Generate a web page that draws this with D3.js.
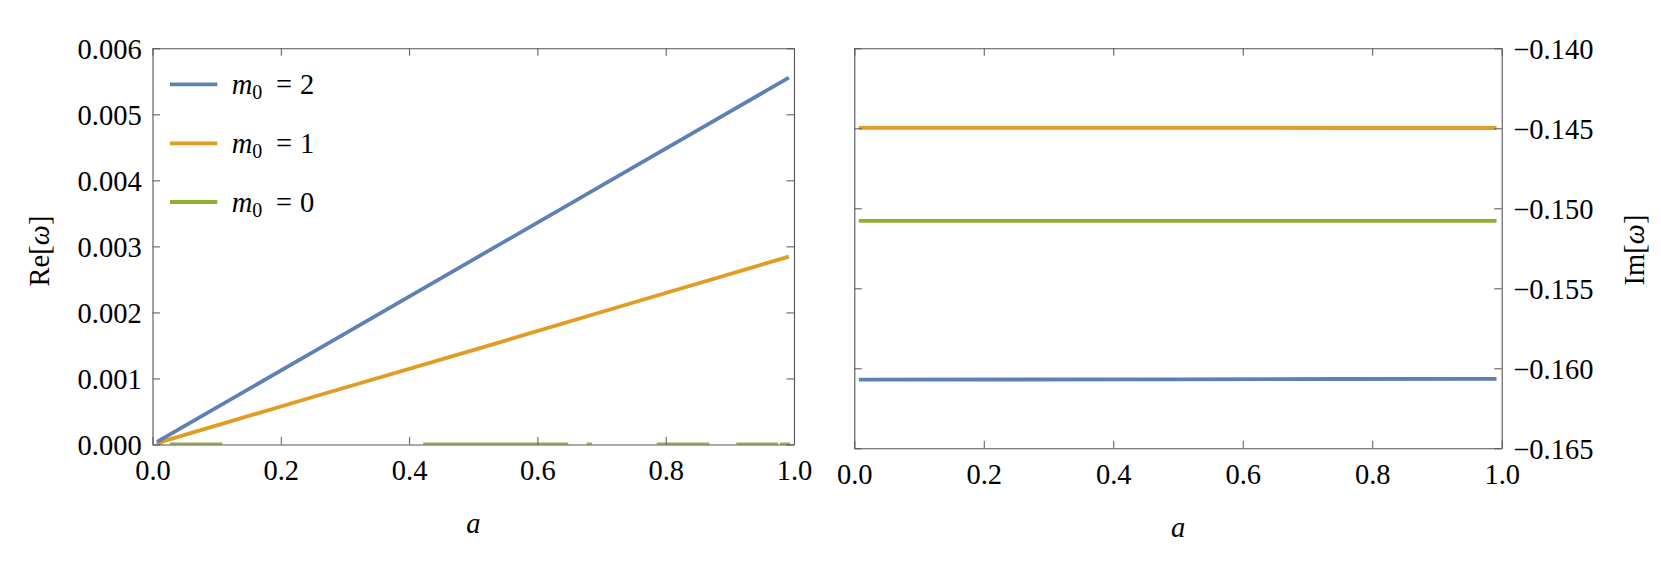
<!DOCTYPE html>
<html>
<head>
<meta charset="utf-8">
<script src="https://cdn.jsdelivr.net/npm/d3@7"></script>
<style>
    body { margin: 0; background: #fff; }
    svg text { font-family: "Liberation Serif", "Times New Roman", serif; fill: #000; }
</style>
</head>
<body>
<div id="container"></div>
<script>

// spin values where the modes were sampled
const aValues = [0.007, 0.25, 0.5, 0.75, 0.992];

// Re[omega]
const reM2 = [0.000039, 0.0014, 0.0028, 0.0042, 0.005555];
const reM1 = [0.00002, 0.00072, 0.00143, 0.00215, 0.002846];

// m0 = 0 stays on zero, only some pieces peek above the frame (null = hidden)
const greenA  = [0.006, 0.016, 0.02, 0.027, 0.109, 0.2, 0.422, 0.648, 0.66, 0.677, 0.685, 0.7, 0.786, 0.868, 0.89, 0.910, 0.975, 0.976, 0.978, 0.994];
const reM0    = [0, 0, null, 0, 0, null, 0, 0, null, 0, 0, null, 0, 0, null, 0, 0, null, 0, 0];

// Im[omega]
const imM2 = [-0.16071, -0.16070, -0.16069, -0.16067, -0.16066];
const imM1 = [-0.14497, -0.14497, -0.14497, -0.14498, -0.14498];
const imM0 = [-0.15078, -0.15078, -0.15078, -0.15078, -0.15078];

const xTicks = [0, 0.2, 0.4, 0.6, 0.8, 1.0];
const reTicks = [0, 0.001, 0.002, 0.003, 0.004, 0.005, 0.006];
const imTicks = [-0.165, -0.160, -0.155, -0.150, -0.145, -0.140];

const legendLabels = ["2", "1", "0"];
const colors = ["#5e81b5", "#e19c24", "#8fb032"];

const frameColor = "#555";
const fontSize = 28.5;
const lineWidth = 3.8;

let svg = d3.select("#container")
    .append("svg")
    .attr("width", 1661)
    .attr("height", 567);

function drawPanel(box, yDomain, yTicks, yFormat, labelSide, series, clipId, xLabelY) {
    const xScale = d3.scaleLinear().domain([0, 1]).range([box.left, box.right]);
    const yScale = d3.scaleLinear().domain(yDomain).range([box.bottom, box.top]);

    svg.append("clipPath").attr("id", clipId)
        .append("rect")
        .attr("x", box.left)
        .attr("y", box.top)
        .attr("width", box.right - box.left)
        .attr("height", box.bottom - box.top);

    let line = d3.line()
        .defined(d => d[1] !== null)
        .x(d => xScale(d[0]))
        .y(d => yScale(d[1]));

    let g = svg.append("g").attr("clip-path", "url(#" + clipId + ")");
    series.forEach(s => {
        g.append("path")
            .attr("fill", "none")
            .attr("stroke", s.color)
            .attr("stroke-width", lineWidth)
            .attr("d", line(s.a.map((a, i) => [a, s.v[i]])));
    });

    // frame with inward ticks on all four sides
    const tick = 7.5;
    let bottom = svg.append("g")
        .attr("transform", "translate(0," + box.bottom + ")")
        .call(d3.axisBottom(xScale).tickValues(xTicks).tickSizeInner(-tick).tickSizeOuter(0)
            .tickFormat(d3.format(".1f")));
    bottom.selectAll("text").attr("y", xLabelY).attr("dy", null);

    svg.append("g")
        .attr("transform", "translate(0," + box.top + ")")
        .call(d3.axisTop(xScale).tickValues(xTicks).tickSizeInner(-tick).tickSizeOuter(0).tickFormat(""));

    let left = svg.append("g")
        .attr("transform", "translate(" + box.left + ",0)")
        .call(d3.axisLeft(yScale).tickValues(yTicks).tickSizeInner(-tick).tickSizeOuter(0)
            .tickFormat(labelSide == "left" ? d3.format(yFormat) : ""));
    left.selectAll("text").attr("x", -10.8).attr("dy", "0.34em");

    let right = svg.append("g")
        .attr("transform", "translate(" + box.right + ",0)")
        .call(d3.axisRight(yScale).tickValues(yTicks).tickSizeInner(-tick).tickSizeOuter(0)
            .tickFormat(labelSide == "right" ? d3.format(yFormat) : ""));
    right.selectAll("text").attr("x", 11.6).attr("dy", "0.34em");

    svg.selectAll(".domain").attr("stroke", frameColor).attr("stroke-width", 1.1);
    svg.selectAll(".tick line").attr("stroke", frameColor).attr("stroke-width", 1);
    svg.selectAll(".tick text")
        .style("font-size", fontSize + "px")
        .style("font-family", "'Liberation Serif', serif");

    return xScale;
}

// LEFT PANEL: real part
const leftBox = { left: 152.5, right: 794, top: 48.3, bottom: 444.5 };
drawPanel(leftBox, [0, 0.006], reTicks, ".3f", "left", [
    { a: greenA, v: reM0, color: colors[2] },
    { a: aValues, v: reM1, color: colors[1] },
    { a: aValues, v: reM2, color: colors[0] }
], "clipLeft", 35.5);

// RIGHT PANEL: imaginary part
const rightBox = { left: 854.3, right: 1501.7, top: 48.3, bottom: 448.3 };
drawPanel(rightBox, [-0.165, -0.140], imTicks, ".3f", "right", [
    { a: aValues, v: imM0, color: colors[2] },
    { a: aValues, v: imM1, color: colors[1] },
    { a: aValues, v: imM2, color: colors[0] }
], "clipRight", 35.5);

// x labels
[[leftBox, 533], [rightBox, 536.5]].forEach(([b, yy]) => {
    svg.append("text")
        .attr("x", (b.left + b.right) / 2)
        .attr("y", yy)
        .attr("text-anchor", "middle")
        .style("font-size", fontSize + "px")
        .style("font-style", "italic")
        .text("a");
});

// y labels, rotated
function yLabel(cx, cy, word) {
    let t = svg.append("text")
        .attr("transform", "translate(" + cx + "," + cy + ") rotate(-90)")
        .attr("text-anchor", "middle")
        .attr("dy", "0.3em")
        .style("font-size", fontSize + "px");
    t.append("tspan").text(word + "[");
    t.append("tspan").style("font-style", "italic").text("ω");
    t.append("tspan").text("]");
}
yLabel(40, 251, "Re");
yLabel(1635, 250, "Im");

// legend
const legendRows = [84.3, 143.3, 202];
legendLabels.forEach((lab, i) => {
    let yy = legendRows[i];
    svg.append("line")
        .attr("x1", 170).attr("x2", 217.3)
        .attr("y1", yy).attr("y2", yy)
        .attr("stroke", colors[i])
        .attr("stroke-width", lineWidth);

    let t = svg.append("text")
        .attr("x", 231.7)
        .attr("y", yy + 9.5)
        .style("font-size", fontSize + "px");
    t.append("tspan").style("font-style", "italic").text("m");
    t.append("tspan").attr("dy", 5.5).style("font-size", "20px").text("0");
    t.append("tspan").attr("x", 276).attr("dy", -5.5).text("=");
    t.append("tspan").attr("x", 300).text(lab);
});

</script>
</body>
</html>
